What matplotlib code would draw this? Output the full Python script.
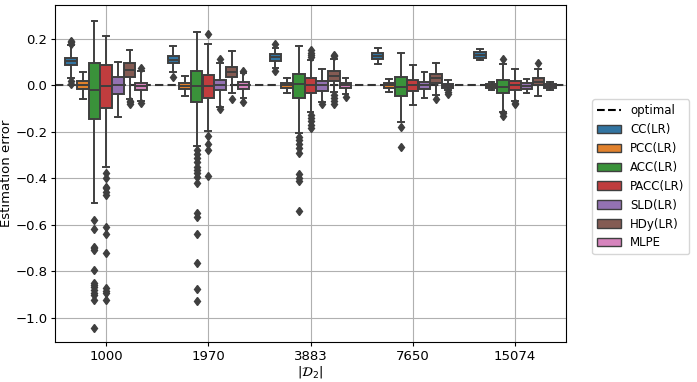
import numpy as np
import matplotlib
matplotlib.use('Agg')
import matplotlib.pyplot as plt
from matplotlib.patches import Patch
from matplotlib.lines import Line2D

plt.rcParams['font.size'] = 9.5

# sample sizes |D2|
sizes = ['1000', '1970', '3883', '7650', '15074']
methods = ['CC(LR)', 'PCC(LR)', 'ACC(LR)', 'PACC(LR)', 'SLD(LR)', 'HDy(LR)', 'MLPE']
colors = ['#3274a1', '#e1812c', '#3a923a', '#c03d3e', '#9372b2', '#845b53', '#d684bd']

# box stats per method, one value per sample size
q1 = {
    'CC(LR)':   [0.087, 0.095, 0.107, 0.114, 0.118],
    'PCC(LR)':  [-0.015, -0.016, -0.012, -0.011, -0.011],
    'ACC(LR)':  [-0.146, -0.072, -0.052, -0.045, -0.034],
    'PACC(LR)': [-0.095, -0.055, -0.034, -0.025, -0.019],
    'SLD(LR)':  [-0.037, -0.021, -0.022, -0.016, -0.016],
    'HDy(LR)':  [0.035, 0.035, 0.021, 0.009, 0.001],
    'MLPE':     [-0.019, -0.015, -0.012, -0.011, -0.012],
}
med = {
    'CC(LR)':   [0.104, 0.111, 0.121, 0.127, 0.131],
    'PCC(LR)':  [0.000, -0.004, 0.000, 0.001, -0.002],
    'ACC(LR)':  [-0.019, -0.004, 0.005, -0.008, -0.005],
    'PACC(LR)': [-0.001, -0.004, 0.000, 0.000, 0.000],
    'SLD(LR)':  [0.002, 0.002, 0.001, 0.000, -0.002],
    'HDy(LR)':  [0.067, 0.059, 0.042, 0.030, 0.016],
    'MLPE':     [-0.004, 0.000, 0.000, -0.002, -0.002],
}
q3 = {
    'CC(LR)':   [0.120, 0.127, 0.134, 0.138, 0.143],
    'PCC(LR)':  [0.019, 0.011, 0.009, 0.009, 0.005],
    'ACC(LR)':  [0.098, 0.062, 0.049, 0.035, 0.022],
    'PACC(LR)': [0.088, 0.045, 0.031, 0.022, 0.018],
    'SLD(LR)':  [0.037, 0.025, 0.021, 0.014, 0.012],
    'HDy(LR)':  [0.098, 0.081, 0.064, 0.048, 0.034],
    'MLPE':     [0.012, 0.015, 0.011, 0.005, 0.006],
}
whislo = {
    'CC(LR)':   [0.034, 0.057, 0.077, 0.092, 0.110],
    'PCC(LR)':  [-0.057, -0.047, -0.034, -0.029, -0.019],
    'ACC(LR)':  [-0.504, -0.260, -0.203, -0.158, -0.113],
    'PACC(LR)': [-0.349, -0.196, -0.113, -0.085, -0.065],
    'SLD(LR)':  [-0.135, -0.091, -0.070, -0.055, -0.034],
    'HDy(LR)':  [-0.060, -0.034, -0.027, -0.041, -0.045],
    'MLPE':     [-0.065, -0.055, -0.038, -0.019, -0.019],
}
whishi = {
    'CC(LR)':   [0.174, 0.171, 0.160, 0.160, 0.157],
    'PCC(LR)':  [0.058, 0.042, 0.031, 0.027, 0.016],
    'ACC(LR)':  [0.279, 0.230, 0.171, 0.138, 0.090],
    'PACC(LR)': [0.214, 0.180, 0.110, 0.087, 0.070],
    'SLD(LR)':  [0.100, 0.098, 0.071, 0.059, 0.029],
    'HDy(LR)':  [0.151, 0.147, 0.114, 0.098, 0.072],
    'MLPE':     [0.062, 0.052, 0.034, 0.024, 0.015],
}
fliers = {
    'CC(LR)':   [[0.180, 0.185, 0.193, 0.020, 0.006], [0.038], [0.176, 0.061], [], []],
    'PCC(LR)':  [[], [], [], [], []],
    'ACC(LR)':  [[-0.578, -0.617, -0.693, -0.700, -0.707, -0.793, -0.848, -0.858, -0.865,
                  -0.880, -0.894, -0.901, -0.922, -1.042],
                 [-0.277, -0.295, -0.313, -0.330, -0.349, -0.363, -0.377, -0.392, -0.420,
                  -0.550, -0.565, -0.639, -0.762, -0.875, -0.927],
                 [-0.220, -0.235, -0.250, -0.270, -0.290, -0.380, -0.400, -0.410, -0.540],
                 [-0.180, -0.263],
                 [0.114, -0.120, -0.130]],
    'PACC(LR)': [[-0.376, -0.399, -0.435, -0.442, -0.457, -0.471, -0.607, -0.639, -0.722,
                  -0.872, -0.883, -0.894, -0.922],
                 [0.219, -0.217, -0.253, -0.277, -0.388],
                 [0.124, 0.132, 0.140, 0.153, -0.127, -0.140, -0.155, -0.170, -0.184],
                 [],
                 [-0.075, -0.080]],
    'SLD(LR)':  [[], [0.113, -0.100], [-0.080], [], []],
    'HDy(LR)':  [[-0.065, -0.072, -0.080], [-0.057], [0.125, 0.131, -0.041, -0.055, -0.068, -0.080],
                 [-0.058], [0.095]],
    'MLPE':     [[0.075, -0.075], [0.062, -0.070], [-0.048], [-0.030, -0.037], []],
}

line_gray = '#3f3f3f'
n_hue = len(methods)
width = 0.8
each = width / n_hue
offsets = np.linspace(0, width - each, n_hue)
offsets -= offsets.mean()

fig, ax = plt.subplots(figsize=(6.97, 3.82), dpi=100)
fig.subplots_adjust(left=0.079, right=0.812, top=0.987, bottom=0.105)

ax.axhline(0, color='#333333', ls='--', lw=1.5, dashes=(4, 2), zorder=1)

for j, m in enumerate(methods):
    stats = []
    for i in range(len(sizes)):
        stats.append(dict(med=med[m][i], q1=q1[m][i], q3=q3[m][i],
                          whislo=whislo[m][i], whishi=whishi[m][i],
                          fliers=np.array(fliers[m][i])))
    pos = np.arange(len(sizes)) + offsets[j]
    ax.bxp(stats, positions=pos, widths=each * 0.98, patch_artist=True,
           manage_ticks=False,
           boxprops=dict(facecolor=colors[j], edgecolor=line_gray, lw=1.4),
           medianprops=dict(color=line_gray, lw=1.4),
           whiskerprops=dict(color=line_gray, lw=1.4),
           capprops=dict(color=line_gray, lw=1.4),
           flierprops=dict(marker='d', markerfacecolor=line_gray, markeredgecolor=line_gray,
                           markersize=4.5))

ax.set_xticks(range(len(sizes)))
ax.set_xticklabels(sizes)
ax.set_xlim(-0.5, len(sizes) - 0.5)
ax.set_ylim(-1.103, 0.346)
ax.set_yticks([0.2, 0.0, -0.2, -0.4, -0.6, -0.8, -1.0])
ax.tick_params(length=3, pad=2.5)
ax.grid(True, color='#b0b0b0', lw=0.8)
ax.set_axisbelow(True)
ax.set_xlabel(r'$|\mathcal{D}_2|$', labelpad=1)
ax.set_ylabel('Estimation error', labelpad=2)

handles = [Line2D([0], [0], color='k', ls='--', lw=1.5, label='optimal')]
for m, c in zip(methods, colors):
    handles.append(Patch(facecolor=c, edgecolor=line_gray, label=m))
ax.legend(handles=handles, loc='center left', bbox_to_anchor=(1.04, 0.49), fontsize=8.5)

fig.savefig('out.png', dpi=100)
